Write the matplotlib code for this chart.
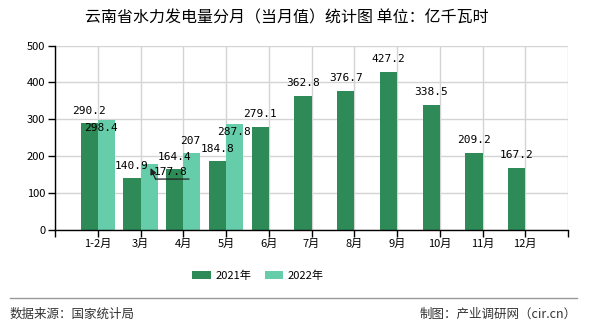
import numpy as np
import matplotlib
matplotlib.use('Agg')
import matplotlib.pyplot as plt
from matplotlib.lines import Line2D
from matplotlib.transforms import offset_copy

plt.rcParams['font.family'] = ['Noto Sans CJK SC', 'DejaVu Sans']

# data
months = ['1-2月', '3月', '4月', '5月', '6月', '7月', '8月', '9月', '10月', '11月', '12月']
vals_2021 = [290.2, 140.9, 164.4, 184.8, 279.1, 362.8, 376.7, 427.2, 338.5, 209.2, 167.2]
vals_2022 = [298.4, 177.8, 207, 287.8]
series_names = ['2021年', '2022年']

# label placement (pixel offsets of label centre from bar top)
off_2021 = [12, 12, 12, 12, 13, 13, 13, 13, 13, 13, 13]
off_2022 = [(-5, -8), None, (-2, 12), (-1, -8)]

c21 = '#2E8B57'
c22 = '#66CDAA'

fig = plt.figure(figsize=(5.9, 3.3), dpi=100)
ax = fig.add_axes([55 / 590, 1 - 229.5 / 330, (568 - 55) / 590, (229.5 - 45.5) / 330])

x = np.arange(len(months))
w = 0.4
ax.bar(x[:len(vals_2021)] - w / 2, vals_2021, w, color=c21, label=series_names[0], zorder=2)
ax.bar(x[:len(vals_2022)] + w / 2, vals_2022, w, color=c22, label=series_names[1], zorder=2)

lbl = dict(fontsize=8, family=['DejaVu Sans Mono'], ha='center', va='center',
           textcoords='offset pixels', zorder=5)
for i, v in enumerate(vals_2021):
    ax.annotate(f'{v:g}', xy=(x[i] - w / 2, v), xytext=(0, off_2021[i]), **lbl)
for i, v in enumerate(vals_2022):
    if off_2022[i] is None:
        continue
    ax.annotate(f'{v:g}', xy=(x[i] + w / 2, v), xytext=off_2022[i], **lbl)

# the moved label with its leader line (3月 2022)
bx, bv = x[1] + w / 2, vals_2022[1]
def px(dx, dy):
    return offset_copy(ax.transData, fig=fig, x=dx, y=dy, units='dots')
ax.annotate(f'{bv:g}', xy=(bx, bv), xytext=(22, -8), **lbl)
ax.annotate('', xy=(bx, bv), xycoords=px(1.5, -4), xytext=(bx, bv), textcoords=px(6.5, -15),
            arrowprops=dict(arrowstyle='-|>', shrinkA=0, shrinkB=0, color='#222', lw=0.9,
                            mutation_scale=9), zorder=6)
ax.annotate('', xy=(bx, bv), xycoords=px(6.5, -15), xytext=(bx, bv), textcoords=px(40, -15),
            arrowprops=dict(arrowstyle='-', shrinkA=0, shrinkB=0, color='#222', lw=0.9),
            zorder=6)

ax.set_xlim(-1, len(months))
ax.set_ylim(0, 500)
ax.set_xticks(np.arange(-1, len(months) + 1))
ax.set_xticklabels([''] + months + [''])
ax.set_yticks(np.arange(0, 501, 100))
ax.tick_params(axis='both', labelsize=8, length=5, width=1, color='black', pad=2)
ax.grid(True, color='#d4d4d4', lw=1, zorder=0)
ax.set_axisbelow(True)
for s in ['top', 'right']:
    ax.spines[s].set_visible(False)
for s in ['left', 'bottom']:
    ax.spines[s].set_color('black')
    ax.spines[s].set_linewidth(1)

fig.text(287 / 590, 1 - 18 / 330, '云南省水力发电量分月（当月值）统计图 单位：亿千瓦时',
         ha='center', va='center', fontsize=11.5)

fig.legend(loc='center', bbox_to_anchor=(258 / 590, 1 - 276 / 330), ncol=2, frameon=False,
           fontsize=8, handlelength=1.7, handleheight=0.75, handletextpad=0.4,
           columnspacing=1.2)

fig.add_artist(Line2D([10 / 590, 577 / 590], [1 - 298 / 330] * 2, color='#999999', lw=1))
fig.text(10 / 590, 1 - 314 / 330, '数据来源：国家统计局', ha='left', va='center',
         fontsize=9, color='#333333')
fig.text(577 / 590, 1 - 314 / 330, '制图：产业调研网（cir.cn）', ha='right', va='center',
         fontsize=9, color='#333333')

fig.savefig('out.png', dpi=100)
